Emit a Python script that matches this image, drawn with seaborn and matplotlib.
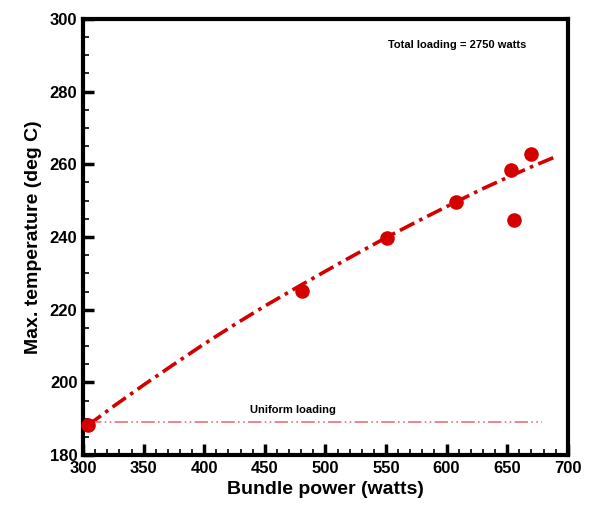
import numpy as np
import pandas as pd
import matplotlib
matplotlib.use("Agg")
import matplotlib.pyplot as plt
import seaborn as sns
from matplotlib.ticker import MultipleLocator

# data
power = [304, 481, 551, 607.5, 653, 655.5, 669.5]
max_temp = [188.2, 225.2, 239.8, 249.5, 258.5, 244.8, 262.7]

fit_power = [304, 325, 350, 375, 400, 425, 450, 481, 515, 551, 580, 607.5, 630, 653, 670, 688]
fit_temp = [188.2, 193.4, 199.3, 205.0, 210.6, 215.9, 221.0, 227.0, 233.4, 240.0,
            245.0, 249.6, 253.3, 256.8, 259.3, 261.8]

uniform_x = [304, 679]
uniform_y = [189.0, 189.0]

sns.set_style("ticks")
plt.rcParams['font.family'] = ['Liberation Sans', 'DejaVu Sans']
plt.rcParams['font.weight'] = 'bold'
plt.rcParams['text.color'] = 'black'
plt.rcParams['axes.labelcolor'] = 'black'
plt.rcParams['xtick.color'] = 'black'
plt.rcParams['ytick.color'] = 'black'

red = '#d40000'

fig = plt.figure(figsize=(5.89, 5.08), dpi=100)
ax = fig.add_axes([0.141, 0.104, 0.823, 0.859])

sns.lineplot(x=fit_power, y=fit_temp, ax=ax, color=red, lw=2.6,
             linestyle=(0, (4.5, 1.5, 1, 1.5)), sort=False)
sns.lineplot(x=uniform_x, y=uniform_y, ax=ax, color='#e87070', lw=1.2,
             linestyle=(0, (8, 2, 1, 2, 1, 2)), sort=False)
sns.scatterplot(x=power, y=max_temp, ax=ax, color=red, s=110,
                edgecolor=red, linewidth=0, zorder=5, clip_on=False)

ax.text(438, 191.5, 'Uniform loading', fontsize=8, fontweight='bold')
ax.text(552, 292, 'Total loading = 2750 watts', fontsize=8, fontweight='bold')

ax.set_xlim(300, 700)
ax.set_ylim(180, 300)
ax.xaxis.set_major_locator(MultipleLocator(50))
ax.xaxis.set_minor_locator(MultipleLocator(10))
ax.yaxis.set_major_locator(MultipleLocator(20))
ax.yaxis.set_minor_locator(MultipleLocator(5))
ax.tick_params(which='major', direction='in', length=8, width=2.5,
               labelsize=12, pad=4)
ax.tick_params(which='minor', direction='in', length=4, width=1.2)
for lab in ax.get_xticklabels() + ax.get_yticklabels():
    lab.set_fontweight('bold')
for sp in ax.spines.values():
    sp.set_linewidth(3)
    sp.set_color('black')
    sp.set_visible(True)

ax.set_xlabel('Bundle power (watts)', fontsize=14, fontweight='bold', labelpad=4)
ax.set_ylabel('Max. temperature (deg C)', fontsize=14, fontweight='bold', labelpad=6)

fig.savefig('out.png', dpi=100)
